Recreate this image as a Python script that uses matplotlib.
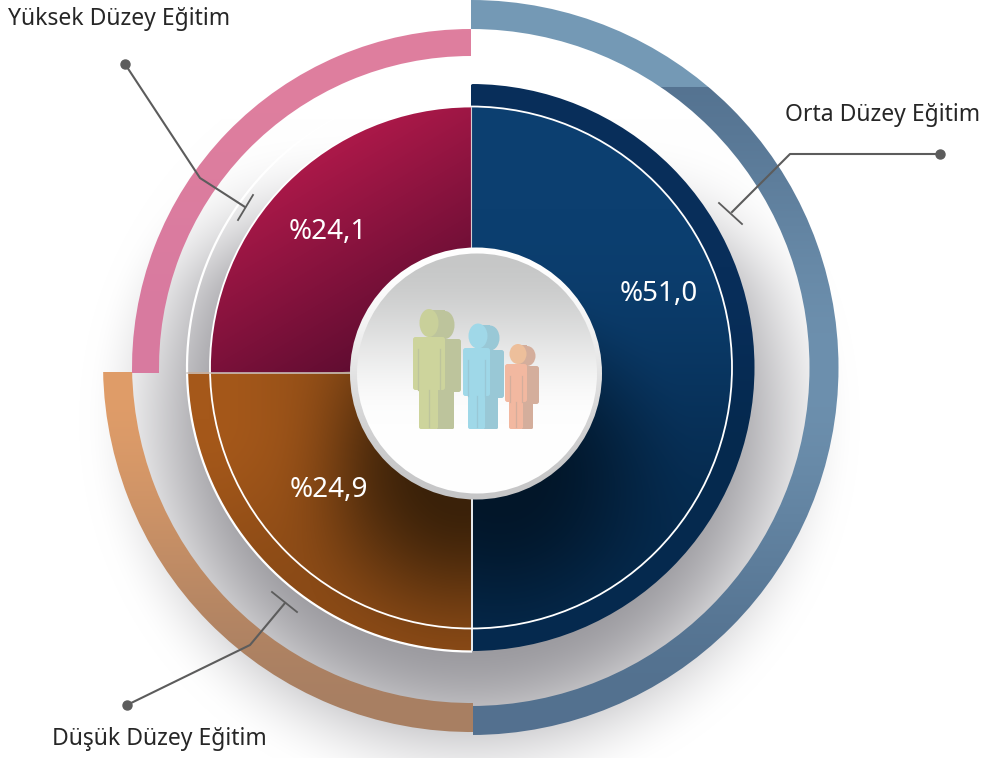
import numpy as np
import matplotlib
matplotlib.use('Agg')
import matplotlib.pyplot as plt
from matplotlib.patches import Wedge, Circle, Ellipse, FancyBboxPatch, Rectangle

# clockwise from the top, the quarters are as drawn in the picture
levels = ['Orta Düzey Eğitim', 'Düşük Düzey Eğitim', 'Yüksek Düzey Eğitim']
shares = [51.0, 24.9, 24.1]
sweeps = [180, 90, 90]

plt.rcParams['font.family'] = ['Noto Sans', 'DejaVu Sans']

fig = plt.figure(figsize=(9.87, 7.58), dpi=100)
ax = fig.add_axes([0, 0, 1, 1])

X, Y = np.meshgrid(np.arange(987) + 0.5, np.arange(758) + 0.5)


def rgb(c):
    return np.array(matplotlib.colors.to_rgb(c))


def ss(t):
    t = np.clip(t, 0, 1)
    return t * t * (3 - 2 * t)


def mix(c0, c1, t):
    c0 = rgb(c0) if isinstance(c0, str) else c0
    c1 = rgb(c1) if isinstance(c1, str) else c1
    return c0 + (c1 - c0) * t[..., None]


def paint(col, patch, z, mask=None):
    # gradient image clipped to a patch
    a = np.ones(X.shape) if mask is None else mask.astype(float)
    im = ax.imshow(np.dstack([col, a]), extent=(0, 987, 758, 0), zorder=z, aspect='auto', interpolation='bilinear')
    patch.set_transform(ax.transData)
    im.set_clip_path(patch)


# drop shadow behind everything
d = np.hypot(X - 470, Y - 421)
s = ss((390 - d) / 170) * ss((Y - 120) / 180)
ax.imshow(np.dstack([mix('#ffffff', '#9b9a9f', s), np.ones(X.shape)]),
          extent=(0, 987, 758, 0), zorder=0, aspect='auto')

# outer rings
cx, cy = 471, 367.5
start = -90
spans = []
for s_ in sweeps:
    spans.append((start, start + s_))
    start += s_

t = ss(np.abs(Y - 370) / 340)
col = mix('#6d90ae', '#53718f', t)
col[Y < 87] = rgb('#7599b5')
paint(col, Wedge((cx, cy), 367.5, spans[0][0], spans[0][1], width=29), 1, ((X >= 471) & (Y < 372)) | (X >= 473))

t = ss((Y - 372) / 350)
paint(mix('#e09d69', '#a87f62', t), Wedge((471, 364), 368, spans[1][0] - 1, spans[1][1] + 2, width=29), 1, (Y >= 372.5) & (X < 473))

t = ss((372 - Y) / 340)
paint(mix('#d87aa0', '#df7f9e', t), Wedge((471, 368), 339, spans[2][0] - 2, spans[2][1], width=27), 1, (Y <= 372.5) & (X <= 471))

# blue half
d = np.hypot(X - 500, Y - 470)
far = mix('#05294c', '#0c3f70', ss((560 - Y) / 350))
col = mix(rgb('#021629') * np.ones(X.shape + (3,)), far, ss((d - 30) / 170))
band = mix('#05294e', '#082e5a', ss((cy + 100 - Y) / 200))
col = np.where((np.hypot(X - cx, Y - cy) > 261)[..., None], band, col)
paint(col, Wedge((cx, cy), 283.5, spans[0][0], spans[0][1]), 2, X >= 471)

# brown quarter
d = np.hypot(X - 462, Y - 470)
col = mix('#3a2109', '#8a4a16', ss((d - 30) / 170))
col = mix(col, rgb('#a5581a') * np.ones(X.shape + (3,)), ss((380 - X) / 170) * ss((620 - Y) / 200))
paint(col, Wedge((cx, cy), 283.5, spans[1][0], spans[1][1] + 2), 2, (Y >= 372.5) & (X <= 471))

# maroon quarter
p = (450 - X) * 0.5 + (365 - Y) * 0.85
col = mix('#500a2c', '#bb1b4e', np.clip(p / 285, 0, 1))
paint(col, Wedge((cx, cy), 261, spans[2][0] - 2, spans[2][1]), 2, (Y <= 372.5) & (X <= 471))

# white hairlines
ax.add_patch(Circle((cx, cy), 261, fc='none', ec='white', lw=1.3, zorder=3))
theta = np.radians(np.linspace(90, 270, 200))
ax.plot(cx + 284 * np.cos(theta), cy + 284 * np.sin(theta), color='white', lw=1.6, zorder=3)
ax.plot([472, 472], [372, 650], color='white', lw=1.3, zorder=3)
ax.plot([471, 471], [107, 372], color='#d5cfd3', lw=0.8, zorder=3)
ax.plot([187, 471], [372.5, 372.5], color='#cfc8c4', lw=1.1, zorder=3)

# hub
t = ss((Y - 250) / 250)
paint(mix('#ffffff', '#c6c6c7', t), Circle((476, 373.5), 126), 4)
t = ss((Y - 254) / 170)
paint(mix('#c6c7c7', '#fefefe', t), Circle((477, 373.5), 120), 5)


def person(x0, x1, x2, x3, top, hy, hrx, hry, hx2, arm, bot, leg0, leg1, leg2, c0, c1, ch):
    # pieces are given in pixels, back slab first
    k = dict(zorder=6, lw=0)
    ax.add_patch(Ellipse((hx2, hy + 2), hrx * 2, hry * 2, fc=c1, **k))
    ax.add_patch(Rectangle((x1, hy + 1 - hry), hx2 - x1, hry * 2, fc=c1, **k))
    ax.add_patch(FancyBboxPatch((x2 - 6, top + 2), x3 - x2 + 6, arm - top, boxstyle='round,pad=0,rounding_size=2.5', fc=c1, **k))
    ax.add_patch(FancyBboxPatch((leg1 - 2, arm - 2), leg2 - leg1 + 2, bot - arm + 2, boxstyle='round,pad=0,rounding_size=1.5', fc=c1, **k))
    ax.add_patch(Ellipse((x1, hy), hrx * 2, hry * 2, fc=ch, **k))
    ax.add_patch(FancyBboxPatch((x0, top), x2 - x0, arm - top, boxstyle='round,pad=0,rounding_size=2.5', fc=c0, **k))
    ax.add_patch(FancyBboxPatch((leg0, arm - 2), leg1 - leg0, bot - arm + 2, boxstyle='round,pad=0,rounding_size=2', fc=c0, **k))
    for xs in (x0 + 5, x2 - 5):
        ax.plot([xs, xs], [top + 12, arm], color=c1, lw=0.9, zorder=6.5)
    ax.plot([(leg0 + leg1) / 2] * 2, [arm, bot - 2], color=c1, lw=0.9, zorder=6.5)


person(413, 429, 445, 461, 337, 323, 9.5, 14, 445, 390, 429, 419, 438, 454, '#cdd49c', '#bdc49c', '#c9d09a')
person(463, 478, 490, 504, 348, 336, 9.5, 12.5, 490, 396, 429, 468, 485, 498, '#9fd8e8', '#99c8d6', '#a0d8e8')
person(505, 518, 527, 539, 364, 354, 8.5, 10, 527, 402, 429, 509, 523, 533, '#f2b8a0', '#d4ae9c', '#edbf9b')

# leader lines, one per level
leaders = {
    'Orta Düzey Eğitim': ([940, 790, 732], [154, 154, 212], [719, 742], [203, 224]),
    'Düşük Düzey Eğitim': ([127, 250, 285], [705, 645, 603], [272, 297], [592, 612]),
    'Yüksek Düzey Eğitim': ([125, 200, 245], [64, 178, 207], [238, 253], [220, 195]),
}
label_pos = {
    'Orta Düzey Eğitim': (883, 115),
    'Düşük Düzey Eğitim': (159, 739),
    'Yüksek Düzey Eğitim': (119, 19),
}
value_pos = {
    'Orta Düzey Eğitim': (659, 294),
    'Düşük Düzey Eğitim': (329, 490),
    'Yüksek Düzey Eğitim': (328, 232),
}
for name, v in zip(levels, shares):
    lx, ly, bx, by = leaders[name]
    ax.plot(lx, ly, color='#5c5c5c', lw=1.5, zorder=7)
    ax.plot(bx, by, color='#5c5c5c', lw=1.3, zorder=7)
    ax.plot(lx[0], ly[0], 'o', color='#5c5c5c', ms=6.5, zorder=7)
    ax.text(*label_pos[name], name, ha='center', va='center', fontsize=16.5, color='#262626', zorder=8)
    ax.text(*value_pos[name], '%' + f'{v:.1f}'.replace('.', ','), ha='center', va='center', fontsize=20, color='white', zorder=8)

ax.set_xlim(0, 987)
ax.set_ylim(758, 0)
ax.axis('off')
fig.savefig('out.png', dpi=100)
